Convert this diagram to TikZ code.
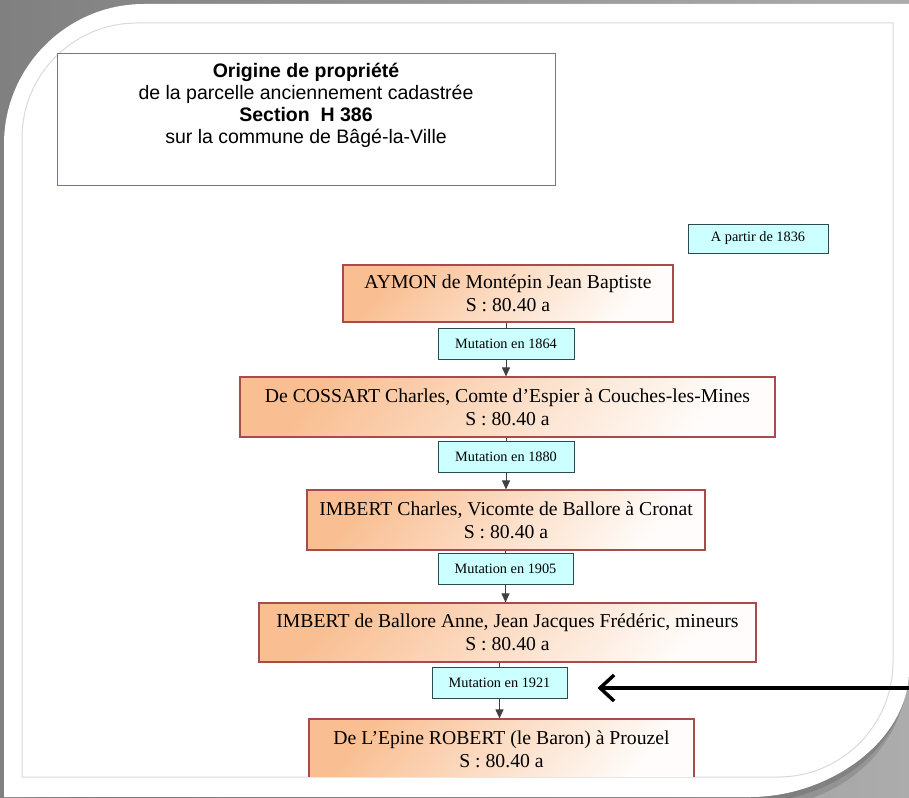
\documentclass[tikz,border=0pt]{standalone}
\usepackage{fontspec}
\setmainfont{Liberation Serif}
\newfontfamily\arialfont{Liberation Sans}
\usetikzlibrary{arrows.meta}

\definecolor{framedark}{RGB}{128,128,128}
\definecolor{framelight}{RGB}{172,172,172}
\definecolor{pageline}{RGB}{218,218,218}
\definecolor{titleborder}{RGB}{165,105,85}
\definecolor{ownerborder}{RGB}{170,75,75}
\definecolor{peach}{RGB}{249,190,145}
\definecolor{mutfill}{RGB}{204,255,255}
\definecolor{mutborder}{RGB}{45,75,75}

\tikzset{
  titlebox/.style={draw=titleborder, line width=1pt, fill=white, inner sep=0pt, minimum width=498pt, minimum height=131pt},
  owner/.style={draw=ownerborder, line width=1.2pt, top color=peach, bottom color=peach!4, shading angle=50, inner sep=0pt, align=center, font=\fontsize{19.7}{23}\selectfont},
  mutation/.style={draw=mutborder, fill=mutfill, line width=1pt, inner sep=0pt, minimum width=136pt, minimum height=31pt, font=\fontsize{14.3}{16}\selectfont},
  link/.style={line width=1pt, draw=black!75},
}

\begin{document}
\begin{tikzpicture}[x=1pt, y=-1pt]
    \useasboundingbox (0,0) rectangle (909,797);

    % grey frame and white card
    \shade[left color=framedark, right color=framelight] (0,0) rectangle (909,797);
    \fill[black, opacity=0.12] (10,797) -- (10,150) -- (150,10) -- (909,10) -- (909,660) .. controls (909,750) and (840,810) .. (740,810) -- cycle;
    \fill[black, opacity=0.12] (6,797) -- (6,146) -- (146,6) -- (909,6) -- (909,666) .. controls (909,744) and (836,803) .. (746,803) -- cycle;
    \fill[white] (4,797) -- (4,144) .. controls (4,67) and (67,4) .. (144,4) -- (909,4) -- (909,670) .. controls (909,740) and (830,797) .. (750,797) -- cycle;
    \draw[pageline, fill=white, line width=1pt] (22,777) -- (22,138) .. controls (22,74.5) and (73.5,23) .. (137,23) -- (893,23) -- (893,662) .. controls (893,725.5) and (841.5,777) .. (778,777) -- cycle;

    % title
    \node[titlebox] (title) at (306,119.5) {};
    \node[anchor=north, align=center, inner sep=0pt, font=\arialfont\fontsize{19.5}{22}\selectfont] (titletext) at ([yshift=-9pt]title.north) {{\bfseries Origine de propriété}\\ de la parcelle anciennement cadastrée\\ {\bfseries Section\ \ H 386}\\ sur la commune de Bâgé-la-Ville};

    \node[mutation, minimum width=140pt, minimum height=29pt] (start) at (758,238.5) {A partir de 1836};

    % owners and mutations
    \node[owner, minimum width=330pt, minimum height=57pt] (o1836) at (508,293.5) {AYMON de Montépin Jean Baptiste\\ S : 80.40 a};
    \node[mutation] (m1864) at (506,343.5) {Mutation en 1864};
    \node[owner, minimum width=535pt, minimum height=60pt] (o1864) at (507.5,407) {De COSSART Charles, Comte d’Espier à Couches-les-Mines\\ S : 80.40 a};
    \node[mutation] (m1880) at (506,456.5) {Mutation en 1880};
    \node[owner, minimum width=398pt, minimum height=60pt] (o1880) at (506,520) {IMBERT Charles, Vicomte de Ballore à Cronat\\ S : 80.40 a};
    \node[mutation, minimum width=135pt] (m1905) at (505.5,568.5) {Mutation en 1905};
    \node[owner, minimum width=497pt, minimum height=59pt] (o1905) at (507.5,632.5) {IMBERT de Ballore Anne, Jean Jacques Frédéric, mineurs\\ S : 80.40 a};
    \node[mutation, minimum width=135pt] (m1921) at (499.5,682.5) {Mutation en 1921};
    \begin{scope}
        \clip (0,0) rectangle (909,776.5);
        \node[owner, minimum width=385pt, minimum height=60pt] (o1921) at (501.5,749) {De L’Epine ROBERT (le Baron) à Prouzel\\ S : 80.40 a};
    \end{scope}

    \draw[link] (m1864.north |- o1836.south) -- (m1864.north);
    \draw[link, -{Stealth[length=9pt, width=8pt, inset=0pt]}] (m1864.south) -- (m1864.south |- o1864.north);
    \draw[link] (m1880.north |- o1864.south) -- (m1880.north);
    \draw[link, -{Stealth[length=9pt, width=8pt, inset=0pt]}] (m1880.south) -- (m1880.south |- o1880.north);
    \draw[link] (m1905.north |- o1880.south) -- (m1905.north);
    \draw[link, -{Stealth[length=9pt, width=8pt, inset=0pt]}] (m1905.south) -- (m1905.south |- o1905.north);
    \draw[link] (m1921.north |- o1905.south) -- (m1921.north);
    \draw[link, -{Stealth[length=9pt, width=8pt, inset=0pt]}] (m1921.south) -- (m1921.south |- o1921.north);

    % pointer to 1921
    \coordinate (pointer) at (909,688);
    \draw[line width=3.5pt, -{Straight Barb[length=14pt, width=26pt]}] (pointer) -- ([xshift=30pt, yshift=-5.5pt]m1921.east);
\end{tikzpicture}
\end{document}
